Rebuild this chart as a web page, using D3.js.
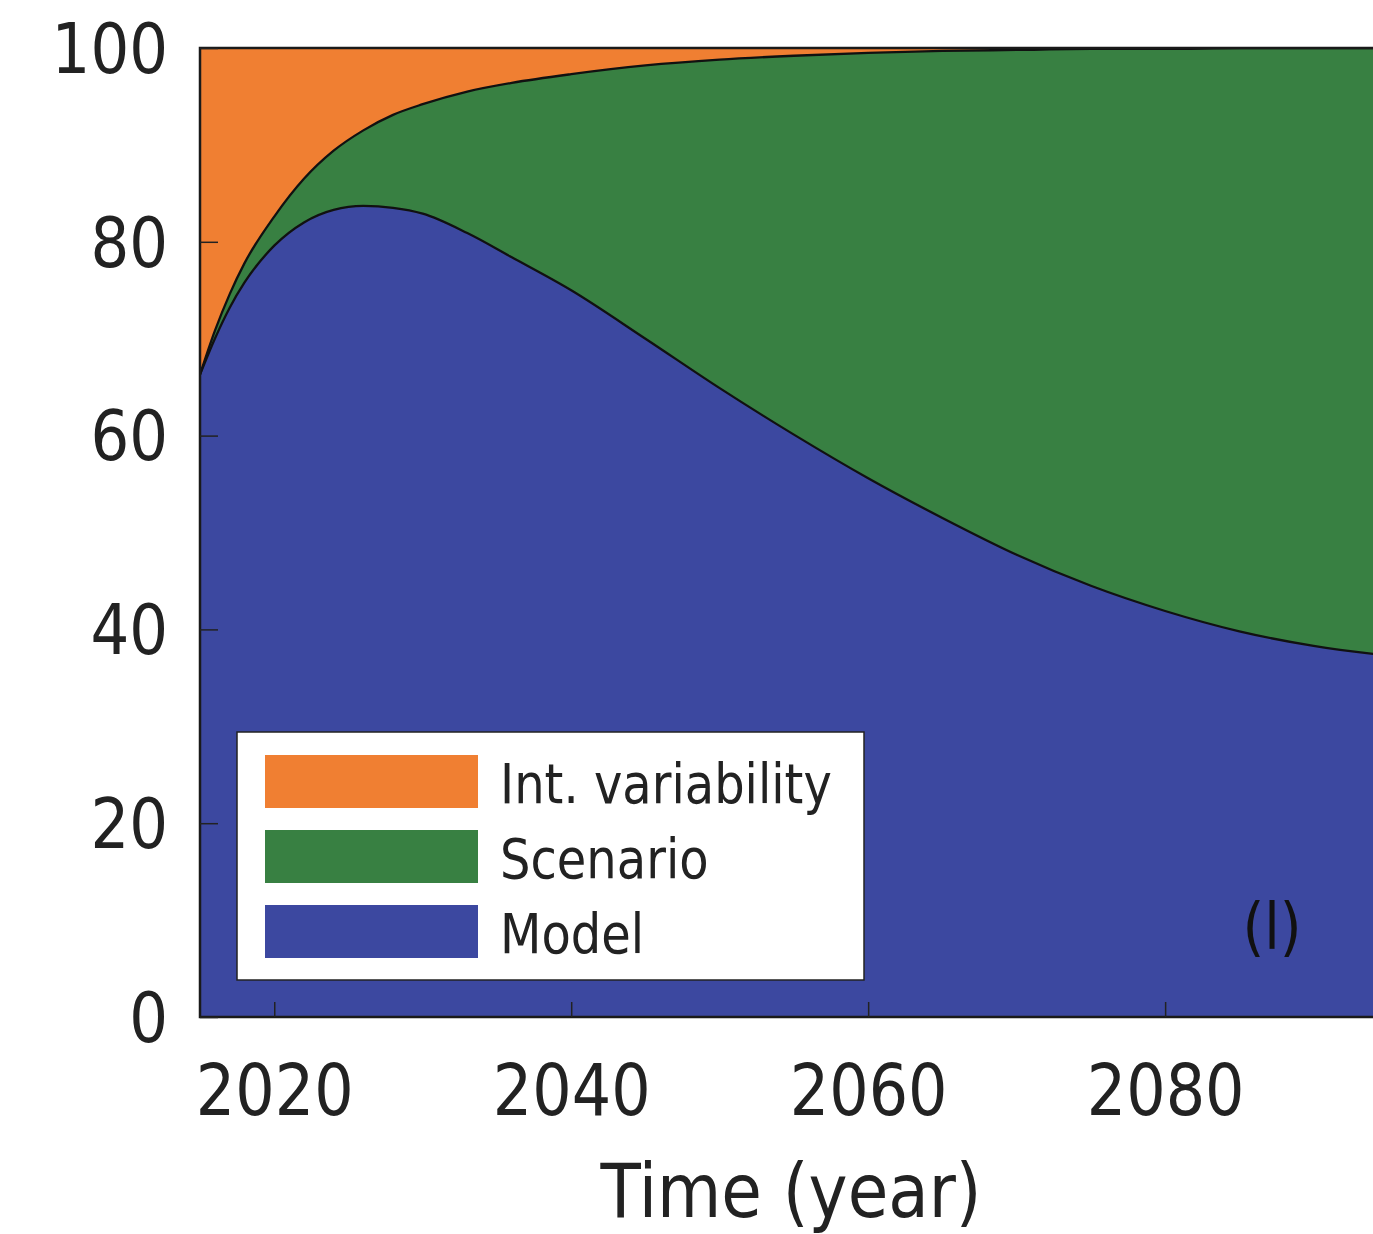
<!DOCTYPE html>
<html>
<head>
<meta charset="utf-8">
<script src="https://cdn.jsdelivr.net/npm/d3@7"></script>
<style>
  html, body { margin: 0; padding: 0; background: #fff; }
  svg { display: block; font-family: "DejaVu Sans", sans-serif; }
</style>
</head>
<body>
<svg id="chart" width="1373" height="1234"></svg>
<script>
// ---- data (percent of total uncertainty) ----
const years = [2015, 2016, 2017, 2018, 2020, 2022, 2024, 2026, 2028, 2030, 2033, 2036, 2040, 2045, 2050, 2055, 2060, 2065, 2070, 2075, 2080, 2085, 2090, 2095, 2100];
const model = [66.3, 70.0, 73.2, 75.8, 79.6, 82.0, 83.3, 83.7, 83.5, 82.9, 80.9, 78.4, 75.0, 70.0, 64.9, 60.1, 55.6, 51.5, 47.7, 44.5, 41.9, 39.8, 38.3, 37.3, 36.6];
const scenario = [0.0, 0.8, 1.4, 2.0, 3.0, 4.5, 6.1, 7.8, 9.6, 11.3, 14.6, 18.0, 22.3, 28.2, 33.9, 39.1, 43.9, 48.2, 52.1, 55.4, 58.0, 60.2, 61.7, 62.7, 63.4];
const variability = [33.7, 29.2, 25.4, 22.2, 17.4, 13.5, 10.6, 8.5, 6.9, 5.8, 4.5, 3.6, 2.7, 1.8, 1.2, 0.8, 0.5, 0.3, 0.2, 0.1, 0.1, 0.0, 0.0, 0.0, 0.0];
const seriesKeys = ["model", "scenario", "variability"];
const legendLabels = ["Int. variability", "Scenario", "Model"];
const yTicks = [0, 20, 40, 60, 80, 100];
const xTicks = [2020, 2040, 2060, 2080];
const panelLabel = "(l)";
const xTitle = "Time (year)";

const colors = { model: "rgb(60,72,160)", scenario: "rgb(56,128,66)", variability: "rgb(240,127,50)" };

const table = years.map((yr, i) => ({ year: yr, model: model[i], scenario: scenario[i], variability: variability[i] }));

const svg = d3.select("#chart");
const L = 200, R = 1373, T = 48, B = 1017;
const x = d3.scaleLinear().domain([2015, 2094]).range([L, R]);
const y = d3.scaleLinear().domain([0, 100]).range([B, T]);
const SY = 1.14;

svg.append("defs").append("clipPath").attr("id", "clip")
  .append("rect").attr("x", L).attr("y", T).attr("width", R - L).attr("height", B - T);

const stack = d3.stack().keys(seriesKeys);
const layers = stack(table);

const area = d3.area()
  .x(d => x(d.data.year))
  .y0(d => y(d[0]))
  .y1(d => y(Math.min(100, d[1])))
  .curve(d3.curveMonotoneX);

const plot = svg.append("g").attr("clip-path", "url(#clip)");
plot.selectAll("path.layer").data(layers).join("path")
  .attr("class", "layer")
  .attr("d", area)
  .attr("fill", d => colors[d.key]);

const line = d3.line()
  .x(d => x(d.data.year))
  .y(d => y(Math.min(100, d[1])))
  .curve(d3.curveMonotoneX);
plot.selectAll("path.edge").data(layers.slice(0, 2)).join("path")
  .attr("class", "edge")
  .attr("d", line)
  .attr("fill", "none")
  .attr("stroke", "#111")
  .attr("stroke-width", 2.3);

// frame (left, top, bottom)
svg.append("path")
  .attr("d", `M${R},${T}H${L}V${B}H${R}`)
  .attr("fill", "none").attr("stroke", "#1a1a1a").attr("stroke-width", 2.5);

// y axis
const yAxis = svg.append("g").attr("transform", `translate(${L},0)`)
  .call(d3.axisLeft(y).tickValues(yTicks).tickSizeInner(-18).tickSizeOuter(0).tickPadding(32));
yAxis.select(".domain").remove();
yAxis.selectAll(".tick line").attr("stroke", "#222").attr("stroke-width", 1.5);
yAxis.selectAll(".tick text")
  .attr("font-size", 61).attr("fill", "#222")
  .attr("font-family", "DejaVu Sans")
  .attr("dy", "0.35em")
  .attr("transform", `scale(1,${SY})`);

// x axis
const xAxis = svg.append("g").attr("transform", `translate(0,${B})`)
  .call(d3.axisBottom(x).tickValues(xTicks).tickFormat(d3.format("d")).tickSizeInner(-15).tickSizeOuter(0));
xAxis.select(".domain").remove();
xAxis.selectAll(".tick line").attr("stroke", "#222").attr("stroke-width", 1.5);
xAxis.selectAll(".tick text")
  .attr("font-size", 62).attr("fill", "#222")
  .attr("font-family", "DejaVu Sans")
  .attr("y", 0).attr("dy", 0)
  .attr("transform", `translate(0,98) scale(1,${SY})`);

// x title
svg.append("text")
  .attr("transform", `translate(791,1217) scale(1,${SY})`)
  .attr("text-anchor", "middle")
  .attr("font-size", 66).attr("fill", "#222")
  .text(xTitle);

// panel label
svg.append("text")
  .attr("transform", `translate(1272,949) scale(1,${SY})`)
  .attr("text-anchor", "middle")
  .attr("font-size", 56).attr("fill", "#111")
  .text(panelLabel);

// legend
const lg = svg.append("g");
lg.append("rect").attr("x", 237).attr("y", 732).attr("width", 627).attr("height", 248)
  .attr("fill", "#fff").attr("stroke", "#222").attr("stroke-width", 1.5);
const legendKeys = ["variability", "scenario", "model"];
legendKeys.forEach((k, i) => {
  lg.append("rect").attr("x", 265).attr("y", 755 + i * 75).attr("width", 213).attr("height", 53)
    .attr("fill", colors[k]);
  lg.append("text")
    .attr("transform", `translate(500,${803 + i * 75}) scale(1,${SY})`)
    .attr("font-size", 48).attr("fill", "#222")
    .text(legendLabels[i]);
});
</script>
</body>
</html>
